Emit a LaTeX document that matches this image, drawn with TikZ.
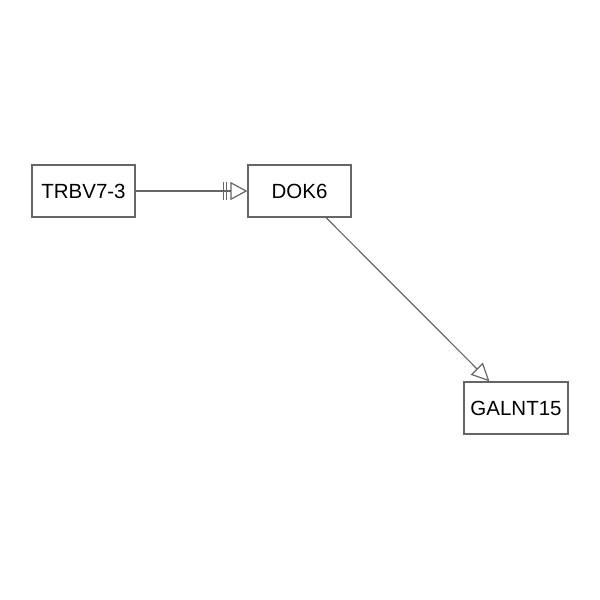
\documentclass[tikz,border=0pt]{standalone}
\usepackage{fontspec}
\setmainfont{Liberation Sans}
\usetikzlibrary{arrows.meta}
\definecolor{edgegray}{HTML}{666666}
\begin{document}
\begin{tikzpicture}[x=1pt,y=-1pt,
  gene/.style={draw=edgegray, line width=1.2pt, fill=white, minimum height=52pt, inner sep=0pt, font=\fontsize{20.5}{24}\selectfont, text=black},
  link/.style={draw=edgegray, line width=1.2pt}]
\useasboundingbox (0,0) rectangle (600,600);
\node[gene, minimum width=103pt] (trbv) at (83.5,191) {TRBV7-3};
\node[gene, minimum width=103pt] (dok) at (299.5,191) {DOK6};
\node[gene, minimum width=104pt] (galnt) at (516,408) {GALNT15};
\draw[link, -{Bar[width=18pt,line width=1.2pt,sep=1.8pt]Bar[width=18pt,line width=1.2pt,sep=3pt]Triangle[open,fill=white,length=17pt,width=18pt,line width=1.2pt]}] (trbv) -- (dok);
\draw[link, -{Triangle[open,fill=white,length=18pt,width=17pt,line width=1.2pt]}] (dok) -- (galnt);
\end{tikzpicture}
\end{document}
